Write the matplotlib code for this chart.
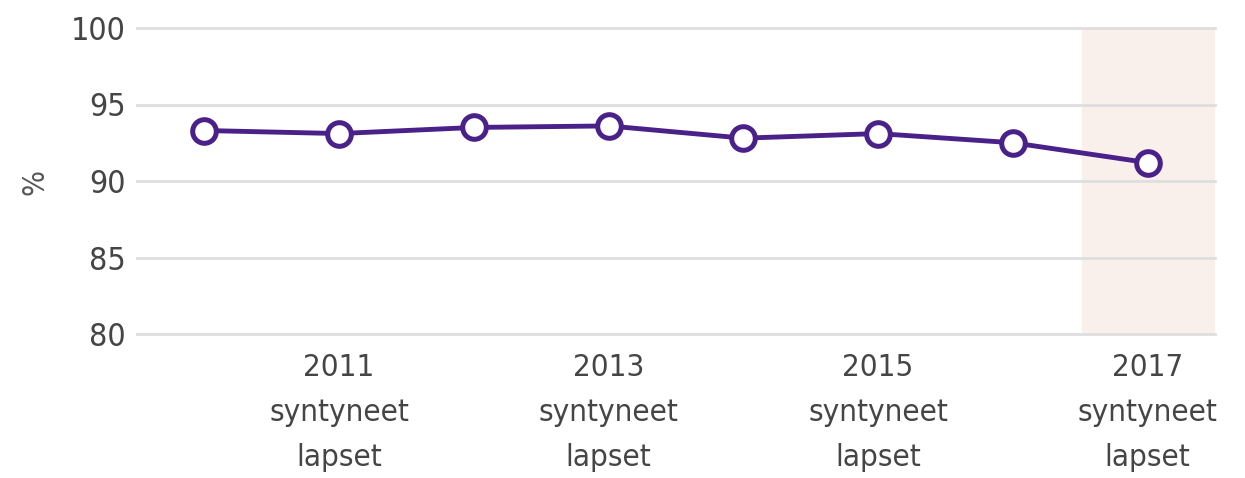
import matplotlib
matplotlib.use("Agg")
import matplotlib.pyplot as plt

years = [2010, 2011, 2012, 2013, 2014, 2015, 2016, 2017]
values = [93.3, 93.1, 93.5, 93.6, 92.8, 93.1, 92.5, 91.2]
labelled_years = [2011, 2013, 2015, 2017]
y_ticks = [80, 85, 90, 95, 100]

plt.rcParams['font.family'] = ['DejaVu Sans']
plt.rcParams['font.stretch'] = 'condensed'

fig = plt.figure(figsize=(12.45, 4.78), dpi=100)
ax = fig.add_axes([137 / 1245, 1 - 334 / 478, (1215 - 137) / 1245, (334 - 28) / 478])

x = list(range(len(years)))
# highlight the latest year
ax.axvspan(x[-1] - 0.49, x[-1] + 0.5, color='#faf0eb', zorder=0)

for t in y_ticks:
    ax.axhline(t, color='#dedede', lw=2, zorder=1, clip_on=False)

ax.plot(x, values, color='#4a2189', lw=3.5, marker='o', markersize=17,
        markerfacecolor='white', markeredgecolor='#4a2189', markeredgewidth=3.6,
        zorder=3, solid_capstyle='round')

ax.set_xlim(-0.5, len(years) - 0.5)
ax.set_ylim(80, 100)
ax.set_yticks(y_ticks)
ax.set_yticklabels([str(t) for t in y_ticks], fontsize=23, color='#454545',
                   fontstretch='condensed')
ax.set_xticks([years.index(y) for y in labelled_years])
ax.set_xticklabels([f'{y}\nsyntyneet\nlapset' for y in labelled_years],
                   fontsize=22.5, color='#454545', linespacing=1.68,
                   fontstretch='condensed')
ax.tick_params(length=0)
ax.tick_params(axis='y', pad=8)
ax.tick_params(axis='x', pad=14)
for s in ax.spines.values():
    s.set_visible(False)

fig.text(35 / 1245, 1 - 182 / 478, '%', rotation=90, fontsize=22, color='#555555',
         ha='center', va='center')

fig.savefig('out.png', dpi=100, facecolor='white')
